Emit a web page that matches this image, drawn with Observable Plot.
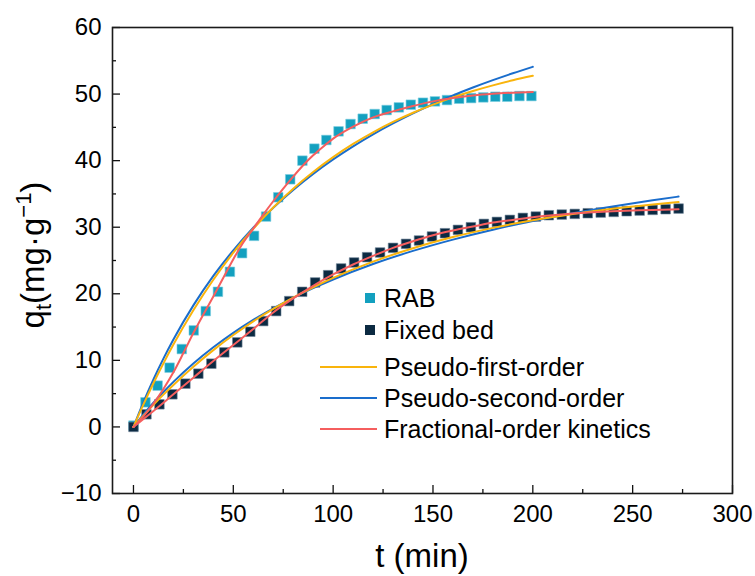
<!DOCTYPE html>
<html><head><meta charset="utf-8">
<script src="https://cdn.jsdelivr.net/npm/d3@7"></script>
<script src="https://cdn.jsdelivr.net/npm/@observablehq/plot@0.6"></script>
<style>
body{margin:0;background:#fff;}
svg{font-family:"Liberation Sans",Arial,sans-serif;}
</style>
</head><body><div id="chart"></div>
<script>
// ---- data ----
const rabT = [0,6,12.1,18.1,24.2,30.2,36.2,42.3,48.3,54.4,60.4,66.4,72.5,78.5,84.6,90.6,96.6,102.7,108.7,114.8,120.8,126.8,132.9,138.9,145,151,157,163.1,169.1,175.2,181.2,187.2,193.3,199.3];
const rabQ = [0.2,3.7,6.2,8.9,11.7,14.5,17.4,20.3,23.3,26.1,28.7,31.6,34.5,37.2,40.0,41.8,43.1,44.4,45.5,46.3,47.0,47.6,48.0,48.4,48.7,48.9,49.1,49.3,49.4,49.5,49.6,49.6,49.7,49.7];
const fixedT = [0,6.5,13,19.5,26,32.5,39,45.5,52,58.5,65,71.5,78,84.5,91,97.5,104,110.5,117,123.5,130,136.5,143,149.5,156,162.5,169,175.5,182,188.5,195,201.5,208,214.5,221,227.5,234,240.5,247,253.5,260,266.5,273];
const fixedQ = [0,1.9,3.4,4.9,6.5,8.0,9.5,11.2,12.7,14.3,15.9,17.4,18.9,20.3,21.7,22.8,23.8,24.7,25.5,26.2,26.9,27.5,28.0,28.6,29.1,29.6,30.0,30.5,30.8,31.1,31.4,31.6,31.8,31.9,32.0,32.1,32.2,32.3,32.4,32.5,32.6,32.7,32.8];

const rabFitT = [0,5,10,15,20,30,40,50,60,70,80,90,100,110,120,130,140,150,160,170,180,190,200];
const rabPFO = [0,3.38,6.56,9.55,12.38,17.53,22.11,26.17,29.77,32.96,35.79,38.30,40.53,42.51,44.26,45.81,47.19,48.41,49.50,50.46,51.31,52.07,52.74];
const rabPSO = [0,3.73,7.14,10.26,13.14,18.26,22.68,26.53,29.92,32.92,35.60,38.01,40.18,42.15,43.95,45.59,47.10,48.50,49.79,50.98,52.09,53.13,54.10];
const rabFracT = [0,5,10,15,20,25,30,35,40,45,50,55,60,65,70,75,80,85,90,95,100,110,120,130,140,150,160,170,180,190,200];
const rabFrac = [0,1.6,3.5,5.7,8.2,11.1,14.1,16.9,19.6,22.4,25.2,27.7,29.8,31.9,33.9,35.8,37.6,39.3,40.8,42.1,43.3,45.1,46.5,47.4,48.2,48.9,49.4,49.8,50.05,50.2,50.3];

const fixedFitT = [0,5,10,15,20,30,40,50,60,70,80,90,100,120,140,160,180,200,220,240,260,273];
const fixedPFO = [0,1.69,3.31,4.85,6.31,9.05,11.54,13.80,15.86,17.73,19.43,20.98,22.39,24.83,26.85,28.52,29.90,31.04,31.98,32.77,33.41,33.77];
const fixedPSO = [0,1.88,3.63,5.25,6.77,9.53,11.96,14.13,16.07,17.82,19.40,20.84,22.15,24.47,26.44,28.14,29.63,30.93,32.09,33.12,34.05,34.60];
const fixedFracT = [0,10,20,30,40,50,60,70,80,90,100,110,120,130,140,150,160,170,180,190,200,210,220,230,240,250,260,273];
const fixedFrac = [0,2.4,4.9,7.4,9.9,12.3,14.7,17.2,19.3,21.2,22.9,24.4,25.7,26.9,27.9,28.8,29.5,30.1,30.7,31.1,31.5,31.8,32.05,32.25,32.4,32.5,32.6,32.7];

const xTicks = [0,50,100,150,200,250,300];
const xMinor = [25,75,125,175,225,275];
const yTicks = [-10,0,10,20,30,40,50,60];
const yMinor = [-5,5,15,25,35,45,55];

const seriesNames = ["RAB","Fixed bed","Pseudo-first-order","Pseudo-second-order","Fractional-order kinetics"];
const seriesColors = ["#13A0BF","#0C2A42","#F9B40C","#1A6DCC","#F55E5E"];

// ---- tables ----
const zip = (ts, qs, extra) => ts.map((t,i)=>({t, q: qs[i], ...extra}));
const rabPts = zip(rabT, rabQ);
const fixedPts = zip(fixedT, fixedQ);
const lines = [
  ...zip(rabFitT, rabPFO, {s:"RAB PFO", m:2}),
  ...zip(rabFitT, rabPSO, {s:"RAB PSO", m:3}),
  ...zip(rabFracT, rabFrac, {s:"RAB frac", m:4}),
  ...zip(fixedFitT, fixedPFO, {s:"Fixed PFO", m:2}),
  ...zip(fixedFitT, fixedPSO, {s:"Fixed PSO", m:3}),
  ...zip(fixedFracT, fixedFrac, {s:"Fixed frac", m:4})
];

const W = 755, H = 576;
const mL = 112, mR = 23, mT = 27, mB = 83;
const fs = 24;

const svg = Plot.plot({
  width: W, height: H,
  marginLeft: mL, marginRight: mR, marginTop: mT, marginBottom: mB,
  style: {fontFamily: '"Liberation Sans", Arial, sans-serif', fontSize: fs + "px", color: "#000", background: "#fff"},
  x: {domain: [-10.5, 300], label: null},
  y: {domain: [-10, 60], label: null},
  marks: [
    Plot.dot(rabPts, {x: "t", y: "q", symbol: "square", r: 5.4, fill: seriesColors[0], stroke: "#7ccfe0", strokeWidth: 0.6}),
    Plot.dot(fixedPts, {x: "t", y: "q", symbol: "square", r: 5.4, fill: seriesColors[1], stroke: "#6f8598", strokeWidth: 0.6}),
    Plot.line(lines.filter(d=>d.m===3), {x: "t", y: "q", z: "s", stroke: seriesColors[3], strokeWidth: 2, curve: "monotone-x"}),
    Plot.line(lines.filter(d=>d.m===2), {x: "t", y: "q", z: "s", stroke: seriesColors[2], strokeWidth: 2, curve: "monotone-x"}),
    Plot.line(lines.filter(d=>d.m===4), {x: "t", y: "q", z: "s", stroke: seriesColors[4], strokeWidth: 2, curve: "monotone-x"}),
    Plot.tickX(xTicks, {x: d=>d, insetTop: H - mT - mB - 8, stroke: "#111", strokeWidth: 1.3}),
    Plot.tickX(xMinor, {x: d=>d, insetTop: H - mT - mB - 4, stroke: "#111", strokeWidth: 1.3}),
    Plot.tickY(yTicks, {y: d=>d, insetRight: W - mL - mR - 8, stroke: "#111", strokeWidth: 1.3}),
    Plot.tickY(yMinor, {y: d=>d, insetRight: W - mL - mR - 4, stroke: "#111", strokeWidth: 1.3}),
    Plot.axisX(xTicks, {tickSize: 0, tickPadding: 11, fontSize: fs, tickFormat: d => String(d)}),
    Plot.axisY(yTicks, {tickSize: 0, tickPadding: 11, fontSize: fs, tickFormat: d => d < 0 ? "\u2212" + Math.abs(d) : String(d)}),
    Plot.frame({stroke: "#1a1a1a", strokeWidth: 1.6})
  ]
});

const s = d3.select(svg);
// axis titles
s.append("text").attr("x", (mL + W - mR)/2).attr("y", 567).attr("text-anchor","middle")
  .attr("font-size", 33).attr("fill","#000").text("t (min)");
const yl = s.append("text").attr("transform","translate(44,255) rotate(-90)").attr("text-anchor","middle")
  .attr("font-size", 33).attr("fill","#000");
yl.append("tspan").text("q");
yl.append("tspan").attr("font-size", 22).attr("dy", 7).text("t");
yl.append("tspan").attr("dy", -7).text("(mg\u00B7g");
yl.append("tspan").attr("font-size", 22).attr("dy", -13).text("\u22121");
yl.append("tspan").attr("dy", 13).text(")");

// legend
const legY = [298, 330, 367, 398, 429];
const lg = s.append("g").attr("font-size", 25).attr("fill", "#000").attr("text-anchor", "start");
seriesNames.forEach((name, i) => {
  const y = legY[i];
  if (i < 2) {
    lg.append("rect").attr("x", 365).attr("y", y - 5).attr("width", 10).attr("height", 10).attr("fill", seriesColors[i]);
  } else {
    lg.append("line").attr("x1", 320).attr("x2", 377).attr("y1", y).attr("y2", y)
      .attr("stroke", seriesColors[i]).attr("stroke-width", 2);
  }
  lg.append("text").attr("x", 384).attr("y", y).attr("dy", "0.36em").attr("text-anchor", "start").text(name);
});

document.getElementById("chart").appendChild(svg);
</script>
</body></html>
